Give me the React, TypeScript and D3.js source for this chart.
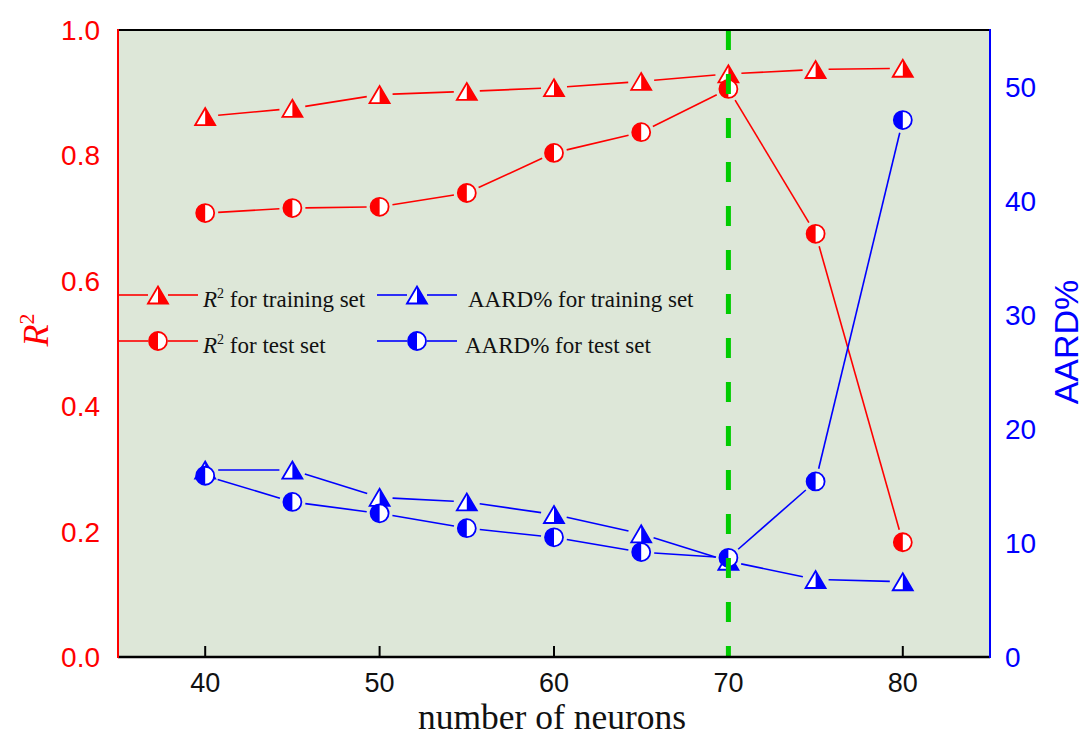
import React from "react";
import * as d3 from "d3";

const neurons = [40, 45, 50, 55, 60, 65, 70, 75, 80];
const r2Train = [0.862, 0.875, 0.897, 0.902, 0.908, 0.918, 0.930, 0.937, 0.939];
const r2Test = [0.708, 0.716, 0.718, 0.740, 0.804, 0.837, 0.906, 0.675, 0.183];
const aardTrain = [16.4, 16.4, 14.0, 13.6, 12.5, 10.8, 8.4, 6.8, 6.6];
const aardTest = [15.9, 13.6, 12.6, 11.3, 10.5, 9.2, 8.7, 15.4, 47.1];
const xTicks = [40, 50, 60, 70, 80];
const leftTicks = [0, 0.2, 0.4, 0.6, 0.8, 1.0];
const rightTicks = [0, 10, 20, 30, 40, 50];
const bestN = 70;

const W = 1085, H = 738;
const L = 118, R = 990, T = 30, B = 657;
const RED = "#ff0000", BLUE = "#0000ff", GREEN = "#00cc00", BG = "#dde7d8";

const x = d3.scaleLinear().domain([35, 85]).range([L, R]);
const yL = d3.scaleLinear().domain([0, 1]).range([B, T]);
const yR = d3.scaleLinear().domain([0, 55]).range([B, T]);

function Tri({ cx, cy, color }: any) {
  const s = 10, h = 17;
  const pts = `${cx - s},${cy + h / 2} ${cx},${cy - h / 2} ${cx + s},${cy + h / 2}`;
  return (
    <g>
      <polygon points={pts} fill="#fff" />
      <polygon points={`${cx},${cy - h / 2} ${cx + s},${cy + h / 2} ${cx},${cy + h / 2}`} fill={color} />
      <polygon points={pts} fill="none" stroke={color} strokeWidth={1.8} />
    </g>
  );
}

function Circ({ cx, cy, color }: any) {
  const r = 9;
  return (
    <g>
      <circle cx={cx} cy={cy} r={r} fill="#fff" />
      <path d={`M${cx},${cy - r} A${r},${r} 0 0 0 ${cx},${cy + r} Z`} fill={color} />
      <circle cx={cx} cy={cy} r={r} fill="none" stroke={color} strokeWidth={1.8} />
    </g>
  );
}

function Series({ xs, ys, color, kind }: any) {
  const pts = xs.map((v: number, i: number) => [x(v), ys[i]]);
  const segs = [];
  const gap = 13;
  for (let i = 0; i < pts.length - 1; i++) {
    const [x1, y1] = pts[i], [x2, y2] = pts[i + 1];
    const dx = x2 - x1, dy = y2 - y1, len = Math.hypot(dx, dy);
    if (len <= 2 * gap) continue;
    const ux = dx / len, uy = dy / len;
    segs.push(
      <line key={i} x1={x1 + ux * gap} y1={y1 + uy * gap} x2={x2 - ux * gap} y2={y2 - uy * gap}
        stroke={color} strokeWidth={1.6} />
    );
  }
  return (
    <g>
      {segs}
      {pts.map(([px, py]: number[], i: number) =>
        kind === "tri" ? <Tri key={i} cx={px} cy={py} color={color} /> : <Circ key={i} cx={px} cy={py} color={color} />
      )}
    </g>
  );
}

function LegendItem({ x0, x1, y, color, kind, children, tx }: any) {
  const mx = (x0 + x1) / 2;
  return (
    <g>
      <line x1={x0} x2={mx - 10} y1={y} y2={y} stroke={color} strokeWidth={1.6} />
      <line x1={mx + 10} x2={x1} y1={y} y2={y} stroke={color} strokeWidth={1.6} />
      {kind === "tri" ? <Tri cx={mx} cy={y} color={color} /> : <Circ cx={mx} cy={y} color={color} />}
      <text x={tx} y={y + 12} fontFamily="'Liberation Serif', 'Times New Roman', serif" fontSize={23} fill="#111">
        {children}
      </text>
    </g>
  );
}

export default function App() {
  const sans = "'Liberation Sans', Arial, sans-serif";
  const serif = "'Liberation Serif', 'Times New Roman', serif";
  return (
    <svg width={W} height={H} style={{ position: "absolute", left: 0, top: 0 }}>
      <rect x={L} y={T} width={R - L} height={B - T} fill={BG} />
      {xTicks.map((t) => (
        <g key={t}>
          <line x1={x(t)} x2={x(t)} y1={B} y2={B - 11} stroke={t === bestN ? GREEN : "#000"} strokeWidth={2} />
          <text x={x(t)} y={692} textAnchor="middle" fontFamily={sans} fontSize={27} fill="#111">{t}</text>
        </g>
      ))}
      {leftTicks.map((t) => (
        <text key={t} x={100} y={yL(t) + 10} textAnchor="end" fontFamily={sans} fontSize={28} fill={RED}>{t.toFixed(1)}</text>
      ))}
      {rightTicks.map((t) => (
        <text key={t} x={1005} y={yR(t) + 10} textAnchor="start" fontFamily={sans} fontSize={28} fill={BLUE}>{t}</text>
      ))}
      <LegendItem x0={L} x1={198} y={295} color={RED} kind="tri" tx={203}>
        <tspan fontStyle="italic">R</tspan><tspan dy={-9} fontSize={14}>2</tspan><tspan dy={9}> for training set</tspan>
      </LegendItem>
      <LegendItem x0={L} x1={198} y={341} color={RED} kind="circ" tx={203}>
        <tspan fontStyle="italic">R</tspan><tspan dy={-9} fontSize={14}>2</tspan><tspan dy={9}> for test set</tspan>
      </LegendItem>
      <LegendItem x0={377} x1={457} y={295} color={BLUE} kind="tri" tx={468}>AARD% for training set</LegendItem>
      <LegendItem x0={377} x1={457} y={341} color={BLUE} kind="circ" tx={465}>AARD% for test set</LegendItem>
      <Series xs={neurons} ys={r2Train.map((v) => yL(v))} color={RED} kind="tri" />
      <Series xs={neurons} ys={r2Test.map((v) => yL(v))} color={RED} kind="circ" />
      <Series xs={neurons} ys={aardTrain.map((v) => yR(v))} color={BLUE} kind="tri" />
      <Series xs={neurons} ys={aardTest.map((v) => yR(v))} color={BLUE} kind="circ" />
      <line x1={x(bestN)} x2={x(bestN)} y1={T} y2={B} stroke={GREEN} strokeWidth={5} strokeDasharray="20 24" />
      <line x1={L} x2={R} y1={T} y2={T} stroke="#000" strokeWidth={2} />
      <line x1={L} x2={R} y1={B} y2={B} stroke="#000" strokeWidth={2.5} />
      <line x1={L} x2={L} y1={T - 1} y2={B + 1} stroke={RED} strokeWidth={2} />
      <line x1={R} x2={R} y1={T - 1} y2={B + 1} stroke={BLUE} strokeWidth={2} />
      <text x={418} y={729} textLength={268} lengthAdjust="spacingAndGlyphs" fontFamily={serif} fontSize={35} fill="#111">number of neurons</text>
      <text transform="translate(48,330) rotate(-90)" textAnchor="middle" fontFamily={serif} fontSize={36} fill={RED}>
        <tspan fontStyle="italic">R</tspan><tspan dy={-14} fontSize={22}>2</tspan>
      </text>
      <text transform="translate(1078,342) rotate(-90)" textAnchor="middle" fontFamily={sans} fontSize={34} fill={BLUE}>AARD%</text>
    </svg>
  );
}
